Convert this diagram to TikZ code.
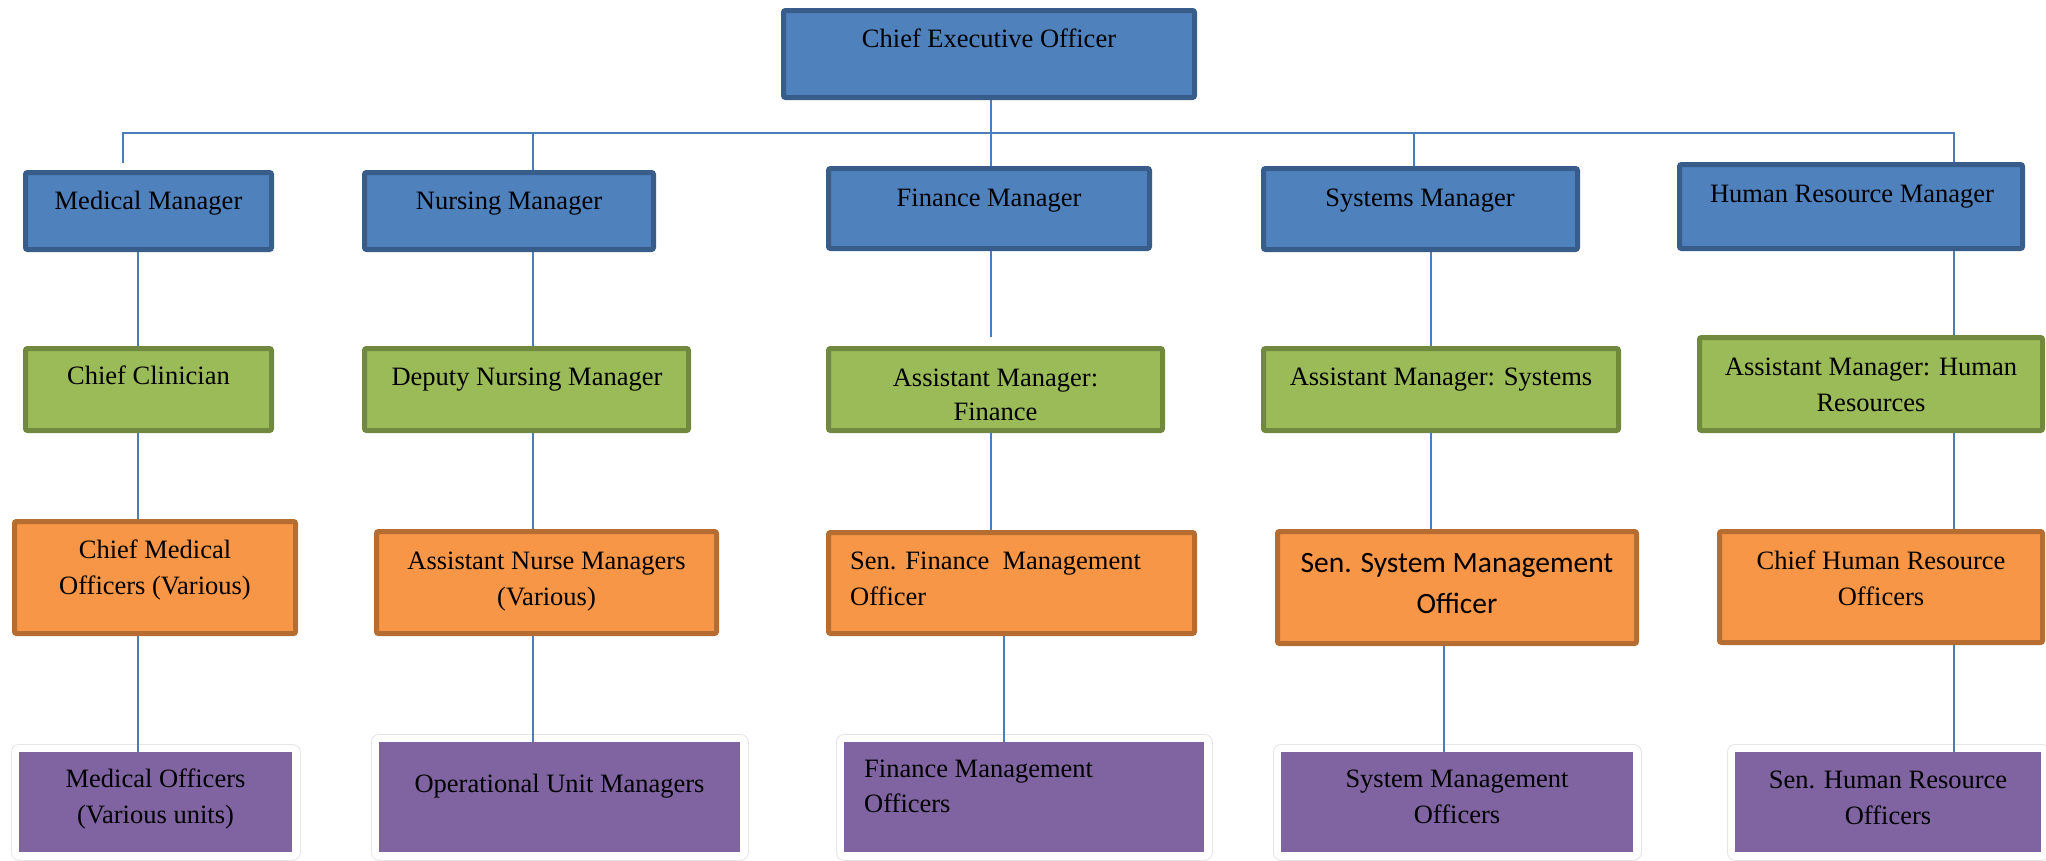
\documentclass[tikz,border=0pt]{standalone}
\usepackage{fontspec}
\setmainfont{Liberation Serif}
\newfontfamily\carlfont{Carlito}
\definecolor{bfill}{HTML}{4F81BD}
\definecolor{bdraw}{HTML}{385D8A}
\definecolor{gfill}{HTML}{9BBB59}
\definecolor{gdraw}{HTML}{71893F}
\definecolor{ofill}{HTML}{F79646}
\definecolor{odraw}{HTML}{B66D31}
\definecolor{pfill}{HTML}{8064A2}
\definecolor{lnk}{HTML}{4A7EBB}
\newcommand\orgbx[6]{\node[#1, minimum width={#4-#2-5}, minimum height={#5-#3-5}] (#6) at ({(#2+#4)/2},{(#3+#5)/2}) {};}
\newcommand\purbx[5]{\node[purpbx, minimum width={#3-#1}, minimum height={#4-#2}] (#5) at ({(#1+#3)/2},{(#2+#4)/2}) {};}
\tikzset{
  basebx/.style={line width=5pt, rounded corners=2pt, inner sep=0pt},
  bluebx/.style={basebx, draw=bdraw, fill=bfill},
  greenbx/.style={basebx, draw=gdraw, fill=gfill},
  orangebx/.style={basebx, draw=odraw, fill=ofill},
  purpbx/.style={inner sep=0pt, line join=round,
    preaction={draw=black!10, line width=17pt},
    preaction={draw=white, line width=15pt},
    fill=pfill},
  conn/.style={draw=lnk, line width=1.8pt},
  txt/.style={font=\fontsize{26.5}{36}\selectfont, inner sep=0pt, align=center, anchor=north},
  txtl/.style={txt, align=left, anchor=north west},
  stxt/.style={font=\carlfont\fontsize{29.5}{41}\selectfont, inner sep=0pt, align=center, anchor=north}
}
\newcommand\fs{\rule{0pt}{20pt}}
\begin{document}
\begin{tikzpicture}[x=1pt,y=-1pt]
\useasboundingbox (0,0) rectangle (2046,860);
% level 0 and 1
\orgbx{bluebx}{781}{8}{1197}{100}{ceo}
\orgbx{bluebx}{23}{170}{274}{252}{mm}
\orgbx{bluebx}{362}{170}{656}{252}{nm}
\orgbx{bluebx}{826}{166}{1152}{251}{fm}
\orgbx{bluebx}{1261}{166}{1580}{252}{sm}
\orgbx{bluebx}{1677}{162}{2025}{251}{hrm}
% level 2
\orgbx{greenbx}{23}{346}{274}{433}{cc}
\orgbx{greenbx}{362}{346}{691}{433}{dnm}
\orgbx{greenbx}{826}{346}{1165}{433}{amf}
\orgbx{greenbx}{1261}{346}{1621}{433}{ams}
\orgbx{greenbx}{1697}{335}{2045}{433}{amh}
% level 3
\orgbx{orangebx}{12}{519}{298}{636}{cmo}
\orgbx{orangebx}{374}{529}{719}{636}{anm}
\orgbx{orangebx}{826}{530}{1197}{636}{sfm}
\orgbx{orangebx}{1275}{529}{1639}{646}{ssm}
\orgbx{orangebx}{1717}{529}{2045}{645}{chr}
% level 4
\purbx{19}{752}{292}{852}{mo}
\purbx{379}{742}{740}{852}{oum}
\purbx{844}{742}{1204}{852}{fmo}
\purbx{1281}{752}{1633}{852}{smo}
\purbx{1735}{752}{2041}{852}{shr}
% texts
\node[txt] (t-ceo) at (989,27.5) {\fs Chief Executive Officer};
\node[txt] (t-mm) at (148.5,189.5) {\fs Medical Manager};
\node[txt] (t-nm) at (509,189.5) {\fs Nursing Manager};
\node[txt] (t-fm) at (989,186.5) {\fs Finance Manager};
\node[txt] (t-sm) at (1420,186.5) {\fs Systems Manager};
\node[txt] (t-hrm) at (1852,182.5) {\fs Human Resource Manager};
\node[txt] (t-cc) at (148.5,364.5) {\fs Chief Clinician};
\node[txt] (t-dnm) at (527,365.5) {\fs Deputy Nursing Manager};
\node[txt, font=\fontsize{26.5}{34}\selectfont] (t-amf) at (995.5,366.5) {\fs Assistant Manager:\\Finance};
\node[txt] (t-ams) at (1441,365.5) {\fs Assistant Manager: Systems};
\node[txt] (t-amh) at (1871,355.5) {\fs Assistant Manager: Human\\Resources};
\node[txt] (t-cmo) at (155,538.5) {\fs Chief Medical\\Officers (Various)};
\node[txt] (t-anm) at (546.5,549.5) {\fs Assistant Nurse Managers\\(Various)};
\node[txtl] (t-sfm) at (850,549.5) {\fs Sen. Finance\ \ Management\\Officer};
\node[stxt] (t-ssm) at (1457,550.5) {\rule{0pt}{22pt}Sen. System Management\\Officer};
\node[txt] (t-chr) at (1881,549.5) {\fs Chief Human Resource\\Officers};
\node[txt] (t-mo) at (155.5,767.5) {\fs Medical Officers\\(Various units)};
\node[txt] (t-oum) at (559.5,772.5) {\fs Operational Unit Managers};
\node[txtl, font=\fontsize{26.5}{35}\selectfont] (t-fmo) at (864,757.5) {\fs Finance Management\\Officers};
\node[txt] (t-smo) at (1457,767.5) {\fs System Management\\Officers};
\node[txt] (t-shr) at (1888,768.5) {\fs Sen. Human Resource\\Officers};
% connector coordinates
\coordinate (busL) at (123,133);
\coordinate (busR) at (1954,133);
\coordinate (medTop) at (123,163);
\coordinate (xMed) at (138,0);
\coordinate (xNur) at (533,0);
\coordinate (xFin) at (991,0);
\coordinate (xFinB) at (1004,0);
\coordinate (fmEnd) at (991,337);
\coordinate (xSysA) at (1414,0);
\coordinate (xSysB) at (1431,0);
\coordinate (xSysC) at (1444,0);
% connectors
\draw[conn] (medTop) -- (busL) -- (busR) -- (hrm.north -| busR);
\draw[conn] (busL -| xNur) -- (nm.north -| xNur);
\draw[conn] (busL -| xSysA) -- (sm.north -| xSysA);
\draw[conn] (ceo.south -| xFin) -- (fm.north -| xFin);
\draw[conn] (mm.south -| xMed) -- (cc.north -| xMed);
\draw[conn] (cc.south -| xMed) -- (cmo.north -| xMed);
\draw[conn] (cmo.south -| xMed) -- (mo.north -| xMed);
\draw[conn] (nm.south -| xNur) -- (dnm.north -| xNur);
\draw[conn] (dnm.south -| xNur) -- (anm.north -| xNur);
\draw[conn] (anm.south -| xNur) -- (oum.north -| xNur);
\draw[conn] (fm.south -| xFin) -- (fmEnd);
\draw[conn] (amf.south -| xFin) -- (sfm.north -| xFin);
\draw[conn] (sfm.south -| xFinB) -- (fmo.north -| xFinB);
\draw[conn] (sm.south -| xSysB) -- (ams.north -| xSysB);
\draw[conn] (ams.south -| xSysB) -- (ssm.north -| xSysB);
\draw[conn] (ssm.south -| xSysC) -- (smo.north -| xSysC);
\draw[conn] (hrm.south -| busR) -- (amh.north -| busR);
\draw[conn] (amh.south -| busR) -- (chr.north -| busR);
\draw[conn] (chr.south -| busR) -- (shr.north -| busR);
\end{tikzpicture}
\end{document}
